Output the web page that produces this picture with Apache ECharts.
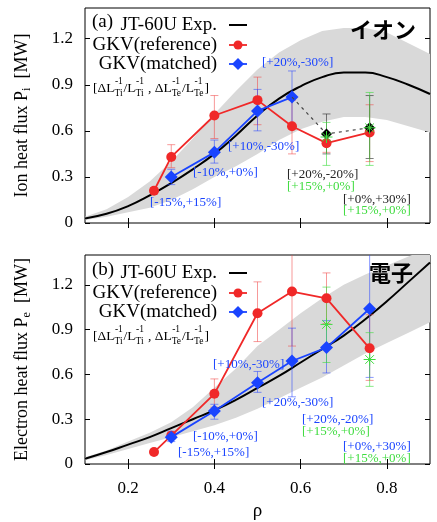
<!DOCTYPE html>
<html>
<head>
<meta charset="utf-8">
<script src="https://cdn.jsdelivr.net/npm/echarts@6/dist/echarts.min.js"></script>
<style>
html, body { margin: 0; padding: 0; background: #fff; }
#chart { width: 437px; height: 522px; }
</style>
</head>
<body>
<div id="chart"></div>
<script>
// ---- data ----
var xTicks = [0.2, 0.4, 0.6, 0.8];
var yTicks = [0, 0.3, 0.6, 0.9, 1.2];

// experimental profile (black curve) and its uncertainty band
var rhoExp = [0.10, 0.15, 0.20, 0.25, 0.30, 0.35, 0.40, 0.45, 0.50, 0.55, 0.60, 0.65, 0.70, 0.75, 0.80, 0.85, 0.90];
var ionExp    = [0.03, 0.06, 0.11, 0.18, 0.26, 0.35, 0.45, 0.57, 0.70, 0.81, 0.89, 0.95, 0.98, 0.98, 0.95, 0.90, 0.84];
var ionBandHi = [0.04, 0.09, 0.17, 0.27, 0.40, 0.55, 0.71, 0.86, 1.00, 1.11, 1.19, 1.25, 1.27, 1.27, 1.24, 1.17, 1.10];
var ionBandLo = [0.02, 0.04, 0.07, 0.10, 0.15, 0.22, 0.30, 0.37, 0.45, 0.54, 0.61, 0.66, 0.69, 0.69, 0.67, 0.63, 0.59];
var eleExp    = [0.035, 0.08, 0.13, 0.18, 0.24, 0.30, 0.36, 0.43, 0.51, 0.59, 0.68, 0.77, 0.86, 0.97, 1.09, 1.22, 1.35];
var eleBandHi = [0.045, 0.09, 0.15, 0.21, 0.28, 0.38, 0.51, 0.64, 0.79, 0.90, 1.01, 1.11, 1.20, 1.27, 1.33, 1.39, 1.45];
var eleBandLo = [0.025, 0.06, 0.10, 0.14, 0.18, 0.22, 0.26, 0.31, 0.37, 0.44, 0.51, 0.58, 0.66, 0.74, 0.81, 0.88, 0.95];

// GKV(reference)
var rhoRef   = [0.26, 0.30, 0.40, 0.50, 0.58, 0.66, 0.76];
var ionRef   = [0.21, 0.43, 0.70, 0.80, 0.63, 0.52, 0.59];
var ionRefLo = [0.19, 0.36, 0.55, 0.64, 0.45, 0.46, 0.40];
var ionRefHi = [0.23, 0.51, 0.83, 0.95, 0.80, 0.58, 0.77];
var eleRef   = [0.08, 0.19, 0.47, 1.01, 1.155, 1.11, 0.775];
var eleRefLo = [0.07, 0.17, 0.38, 0.82, 0.79, 0.94, 0.56];
var eleRefHi = [0.09, 0.21, 0.57, 1.22, 1.50, 1.28, 1.00];

// GKV(matched)
var rhoIonMatch = [0.30, 0.40, 0.50, 0.58];
var ionMatch    = [0.30, 0.46, 0.73, 0.82];
var ionMatchLo  = [0.25, 0.39, 0.60, 0.63];
var ionMatchHi  = [0.35, 0.54, 0.87, 0.99];
var rhoEleMatch = [0.30, 0.40, 0.50, 0.58, 0.66, 0.76];
var eleMatch    = [0.18, 0.355, 0.545, 0.69, 0.78, 1.04];
var eleMatchLo  = [0.15, 0.30, 0.48, 0.45, 0.61, 0.58];
var eleMatchHi  = [0.22, 0.40, 0.62, 0.91, 0.96, 1.45];

// black diamonds (ion, outer radii) and green stars
var rhoOuter   = [0.66, 0.76];
var ionBlack   = [0.58, 0.62];
var ionBlackLo = [0.45, 0.42];
var ionBlackHi = [0.71, 0.83];
var ionGreen   = [0.56, 0.62];
var ionGreenLo = [0.375, 0.375];
var ionGreenHi = [0.655, 0.85];
var eleGreen   = [0.935, 0.70];
var eleGreenLo = [0.68, 0.52];
var eleGreenHi = [1.185, 0.88];

var FONT = '"Liberation Serif", "Times New Roman", serif';
var RED = '#f02828', BLUE = '#1a44ff', GREEN = '#3fdc3f';

function pairs(xs, ys) { return xs.map(function (x, i) { return [x, ys[i]]; }); }

function xAx(grid, pos, withLabels) {
    return {
        type: 'value', gridIndex: grid, position: pos, min: 0.1, max: 0.9,
        axisLine: { show: false }, splitLine: { show: false },
        axisTick: { inside: true, length: 5, customValues: xTicks, lineStyle: { color: '#000' } },
        axisLabel: { show: withLabels, customValues: xTicks, margin: 16, fontFamily: FONT, fontSize: 17, color: '#000' },
        name: withLabels ? 'ρ' : '', nameLocation: 'middle', nameGap: 38,
        nameTextStyle: { fontFamily: FONT, fontSize: 19, color: '#000' }
    };
}

function yAx(grid, pos, name, sub) {
    return {
        type: 'value', gridIndex: grid, position: pos, min: 0, max: 1.4,
        axisLine: { show: false }, splitLine: { show: false },
        axisTick: { inside: true, length: 5, customValues: yTicks, lineStyle: { color: '#000' } },
        axisLabel: {
            show: pos === 'left', customValues: yTicks, margin: 12, fontFamily: FONT, fontSize: 17, color: '#000',
            formatter: function (v) { return v === 0 ? '0' : v.toFixed(1); }
        },
        name: pos === 'left' ? name + ' P{s|' + sub + '}  [MW]' : '',
        nameLocation: 'middle', nameGap: 52, nameRotate: 90,
        nameTextStyle: {
            fontFamily: FONT, fontSize: 18, color: '#000',
            rich: { s: { fontFamily: FONT, fontSize: 12, color: '#000', padding: [10, 0, 0, 0] } }
        }
    };
}

function band(ax, lo, hi) {
    return {
        type: 'custom', xAxisIndex: ax, yAxisIndex: ax, silent: true, z: 1, clip: true,
        data: [0],
        renderItem: function (params, api) {
            var pts = [];
            for (var i = 0; i < rhoExp.length; i++) pts.push(api.coord([rhoExp[i], hi[i]]));
            for (var j = rhoExp.length - 1; j >= 0; j--) pts.push(api.coord([rhoExp[j], lo[j]]));
            return { type: 'polygon', shape: { points: pts }, style: { fill: '#d9d9d9' } };
        }
    };
}

function errBars(ax, xs, lo, hi, color) {
    return {
        type: 'custom', xAxisIndex: ax, yAxisIndex: ax, silent: true, z: 3, clip: true,
        data: xs.map(function (x, i) { return [x, lo[i], hi[i]]; }),
        encode: { x: 0, y: [1, 2] },
        renderItem: function (params, api) {
            var a = api.coord([api.value(0), api.value(1)]);
            var b = api.coord([api.value(0), api.value(2)]);
            var w = 4, st = { stroke: color, lineWidth: 1 };
            return {
                type: 'group', children: [
                    { type: 'line', shape: { x1: a[0], y1: a[1], x2: b[0], y2: b[1] }, style: st },
                    { type: 'line', shape: { x1: a[0] - w, y1: a[1], x2: a[0] + w, y2: a[1] }, style: st },
                    { type: 'line', shape: { x1: b[0] - w, y1: b[1], x2: b[0] + w, y2: b[1] }, style: st }
                ]
            };
        }
    };
}

function stars(ax, xs, ys) {
    return {
        type: 'custom', xAxisIndex: ax, yAxisIndex: ax, silent: true, z: 8,
        data: pairs(xs, ys),
        renderItem: function (params, api) {
            var c = api.coord([api.value(0), api.value(1)]);
            var r = 6, d = 4.3, st = { stroke: GREEN, lineWidth: 1 };
            return {
                type: 'group', children: [
                    { type: 'line', shape: { x1: c[0] - r, y1: c[1], x2: c[0] + r, y2: c[1] }, style: st },
                    { type: 'line', shape: { x1: c[0], y1: c[1] - r, x2: c[0], y2: c[1] + r }, style: st },
                    { type: 'line', shape: { x1: c[0] - d, y1: c[1] - d, x2: c[0] + d, y2: c[1] + d }, style: st },
                    { type: 'line', shape: { x1: c[0] - d, y1: c[1] + d, x2: c[0] + d, y2: c[1] - d }, style: st }
                ]
            };
        }
    };
}

function lineSeries(ax, data, color, symbol, size, z) {
    return {
        type: 'line', xAxisIndex: ax, yAxisIndex: ax, data: data, z: z || 5,
        symbol: symbol, symbolSize: size, showSymbol: true,
        lineStyle: { color: color, width: 1.8 }, itemStyle: { color: color }
    };
}

// ---- text / legend overlays ----
var ctx = document.createElement('canvas').getContext('2d');
function tw(s, size) { ctx.font = size + 'px ' + FONT; return ctx.measureText(s).width; }

function txt(x, y, s, size, color, align) {
    return {
        type: 'text', x: x, y: y, silent: true, z: 100,
        style: { text: s, font: size + 'px ' + FONT, fill: color || '#000', textAlign: align || 'left', textVerticalAlign: 'middle' }
    };
}

function legendBlock(dy, tag) {
    var out = [];
    var rx = 217, sx0 = 229, sx1 = 247, sc = 238;
    out.push(txt(92, 22 + dy, tag, 19));
    out.push(txt(rx, 25 + dy, 'JT-60U Exp.', 19, '#000', 'right'));
    out.push({ type: 'line', shape: { x1: sx0, y1: 25 + dy, x2: sx1, y2: 25 + dy }, style: { stroke: '#000', lineWidth: 2 }, z: 100 });
    out.push(txt(rx, 45 + dy, 'GKV(reference)', 19, '#000', 'right'));
    out.push({ type: 'line', shape: { x1: sx0, y1: 45 + dy, x2: sx1, y2: 45 + dy }, style: { stroke: RED, lineWidth: 1.8 }, z: 100 });
    out.push({ type: 'circle', shape: { cx: sc, cy: 45 + dy, r: 4.5 }, style: { fill: RED }, z: 100 });
    out.push(txt(rx, 64 + dy, 'GKV(matched)', 19, '#000', 'right'));
    out.push({ type: 'line', shape: { x1: sx0, y1: 64 + dy, x2: sx1, y2: 64 + dy }, style: { stroke: BLUE, lineWidth: 1.8 }, z: 100 });
    out.push({ type: 'polygon', shape: { points: [[sc, 58 + dy], [sc + 6, 64 + dy], [sc, 70 + dy], [sc - 6, 64 + dy]] }, style: { fill: BLUE }, z: 100 });

    // [ΔL^-1_Ti / L^-1_Ti , ΔL^-1_Te / L^-1_Te]
    var parts = [['[\u0394L'], ['-1', 'Ti'], ['/L'], ['-1', 'Ti'], [' , \u0394L'], ['-1', 'Te'], ['/L'], ['-1', 'Te'], [']']];
    var x = 93, y = 88 + dy;
    parts.forEach(function (p) {
        if (p.length === 1) {
            out.push(txt(x, y, p[0], 13.5));
            x += tw(p[0], 13.5);
        } else {
            out.push(txt(x + 0.5, y - 7, p[0], 9.5));
            out.push(txt(x, y + 5, p[1], 9.5));
            x += Math.max(tw(p[0], 9.5), tw(p[1], 9.5)) + 1;
        }
    });
    return out;
}

var AN = 13;
var graphics = [].concat(
    legendBlock(0, '(a)'),
    legendBlock(248, '(b)'),
    [
        {
            type: 'text', x: 416, y: 30, z: 100, silent: true,
            style: { text: 'イオン', font: 'bold 22px "Noto Sans CJK JP"', fill: '#000', textAlign: 'right', textVerticalAlign: 'middle' }
        },
        {
            type: 'text', x: 413, y: 273, z: 100, silent: true,
            style: { text: '電子', font: 'bold 22px "Noto Sans CJK JP"', fill: '#000', textAlign: 'right', textVerticalAlign: 'middle' }
        },
        // ion annotations
        txt(262, 63, '[+20%,-30%]', AN, BLUE),
        txt(228, 147, '[+10%,-30%]', AN, BLUE),
        txt(193, 173, '[-10%,+0%]', AN, BLUE),
        txt(150, 203, '[-15%,+15%]', AN, BLUE),
        txt(287, 175, '[+20%,-20%]', AN, '#222'),
        txt(287, 187, '[+15%,+0%]', AN, GREEN),
        txt(343, 200, '[+0%,+30%]', AN, '#222'),
        txt(343, 211, '[+15%,+0%]', AN, GREEN),
        // electron annotations
        txt(213, 365, '[+10%,-30%]', AN, BLUE),
        txt(262, 403, '[+20%,-30%]', AN, BLUE),
        txt(302, 420, '[+20%,-20%]', AN, BLUE),
        txt(302, 432, '[+15%,+0%]', AN, GREEN),
        txt(193, 437, '[-10%,+0%]', AN, BLUE),
        txt(178, 453, '[-15%,+15%]', AN, BLUE),
        txt(343, 447, '[+0%,+30%]', AN, BLUE),
        txt(343, 459, '[+15%,+0%]', AN, GREEN)
    ]
);

var blackDash = [[rhoIonMatch[3], ionMatch[3]]].concat(pairs(rhoOuter, ionBlack));

var chart = echarts.init(document.getElementById('chart'));
chart.setOption({
    animation: false,
    backgroundColor: '#fff',
    grid: [
        { left: 85, right: 7, top: 8, height: 215, show: true, borderColor: '#000', borderWidth: 1 },
        { left: 85, right: 7, top: 255, height: 217, show: true, borderColor: '#000', borderWidth: 1 }
    ],
    xAxis: [xAx(0, 'bottom', false), xAx(1, 'bottom', true), xAx(0, 'top', false), xAx(1, 'top', false)],
    yAxis: [yAx(0, 'left', 'Ion heat flux', 'i'), yAx(1, 'left', 'Electron heat flux', 'e'), yAx(0, 'right'), yAx(1, 'right')],
    graphic: graphics,
    series: [
        band(0, ionBandLo, ionBandHi),
        band(1, eleBandLo, eleBandHi),
        {
            type: 'line', xAxisIndex: 0, yAxisIndex: 0, data: pairs(rhoExp, ionExp), smooth: true,
            symbol: 'none', lineStyle: { color: '#000', width: 2 }, z: 2
        },
        {
            type: 'line', xAxisIndex: 1, yAxisIndex: 1, data: pairs(rhoExp, eleExp), smooth: true,
            symbol: 'none', lineStyle: { color: '#000', width: 2 }, z: 2
        },
        // error bars
        errBars(0, rhoRef, ionRefLo, ionRefHi, 'rgba(240,70,70,0.55)'),
        errBars(0, rhoIonMatch, ionMatchLo, ionMatchHi, 'rgba(40,70,255,0.55)'),
        errBars(0, rhoOuter, ionBlackLo, ionBlackHi, 'rgba(40,40,40,0.6)'),
        errBars(0, rhoOuter, ionGreenLo, ionGreenHi, 'rgba(60,220,60,0.6)'),
        errBars(1, rhoRef, eleRefLo, eleRefHi, 'rgba(240,70,70,0.55)'),
        errBars(1, rhoEleMatch, eleMatchLo, eleMatchHi, 'rgba(40,70,255,0.55)'),
        errBars(1, rhoOuter, eleGreenLo, eleGreenHi, 'rgba(60,220,60,0.6)'),
        // ion panel
        lineSeries(0, pairs(rhoRef, ionRef), RED, 'circle', 10),
        lineSeries(0, pairs(rhoIonMatch, ionMatch), BLUE, 'diamond', 13, 6),
        {
            type: 'line', xAxisIndex: 0, yAxisIndex: 0, z: 7,
            data: blackDash.map(function (p, i) { return i === 0 ? { value: p, symbol: 'none' } : p; }),
            symbol: 'diamond', symbolSize: 11,
            lineStyle: { color: '#444', width: 1.2, type: [3, 4] }, itemStyle: { color: '#000' }
        },
        stars(0, rhoOuter, ionGreen),
        // electron panel
        lineSeries(1, pairs(rhoRef, eleRef), RED, 'circle', 10),
        lineSeries(1, pairs(rhoEleMatch, eleMatch), BLUE, 'diamond', 13, 6),
        stars(1, rhoOuter, eleGreen)
    ]
});
</script>
</body>
</html>
